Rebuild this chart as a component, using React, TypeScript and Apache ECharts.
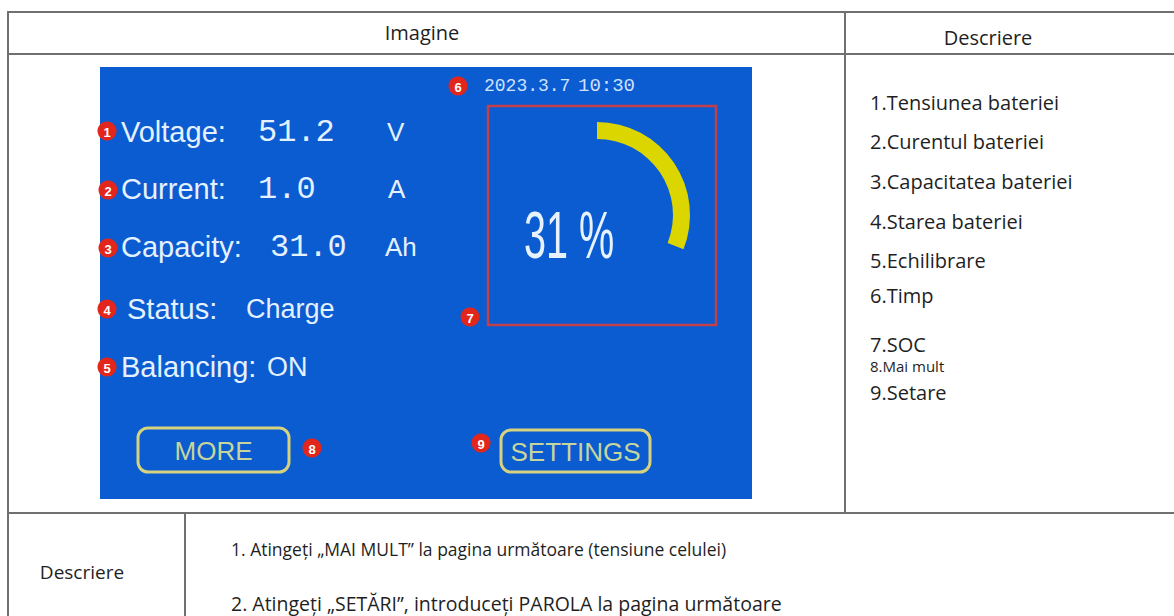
import React, { useEffect, useRef } from "react";
import * as echarts from "echarts";

// ---- data ----
const headerLabels = ["Imagine", "Descriere"];
const metricLabels = ["Voltage:", "Current:", "Capacity:", "Status:", "Balancing:"];
const metricValues = ["51.2", "1.0", "31.0", "Charge", "ON"];
const metricUnits = ["V", "A", "Ah", "", ""];
const dateTime = ["2023.3.7", "10:30"];
const socValue = [31];
const buttonLabels = ["MORE", "SETTINGS"];
const markerNumbers = ["1", "2", "3", "4", "5", "6", "7", "8", "9"];
const descriptionItems = [
  "1.Tensiunea bateriei",
  "2.Curentul bateriei",
  "3.Capacitatea bateriei",
  "4.Starea bateriei",
  "5.Echilibrare",
  "6.Timp",
  "7.SOC",
  "8.Mai mult",
  "9.Setare",
];
const footerLabel = ["Descriere"];
const footerNotes = [
  "1. Atingeți „MAI MULT” la pagina următoare (tensiune celulei)",
  "2. Atingeți „SETĂRI”, introduceți PAROLA la pagina următoare",
];

// ---- layout ----
const W = 1174;
const H = 616;
const LINE = "#707070";
const TXT = "#1f1f1f";
const BLUE = "#0b5bd1";
const SCREEN_TXT = "#e4f1ff";
const SANS = '"Liberation Sans", Arial, sans-serif';
const MONO = '"Liberation Mono", "DejaVu Sans Mono", monospace';
const OPEN = '"Open Sans", "Noto Sans", sans-serif';

const rowY = [132, 189, 247, 309, 367];
const valueX = [258, 258, 270, 246, 267];
const unitX = [387, 388, 385, 0, 0];
const markerPos: [number, number][] = [
  [107, 131],
  [108, 190],
  [108, 248],
  [107, 309],
  [107, 367],
  [458, 86],
  [470, 317],
  [312, 448],
  [481, 443],
];
const descY = [102, 141, 181, 221, 260, 295, 344, 366, 392];

function txt(text: string, x: number, y: number, font: string, fill: string, align = "left", z = 5) {
  return {
    type: "text",
    z,
    style: {
      text,
      x,
      y,
      font,
      fill,
      align,
      verticalAlign: "middle",
      textAlign: align,
      textVerticalAlign: "middle",
    },
  };
}

function line(x1: number, y1: number, x2: number, y2: number) {
  return {
    type: "line",
    z: 3,
    shape: { x1, y1, x2, y2 },
    style: { stroke: LINE, lineWidth: 2 },
  };
}

export default function App() {
  const ref = useRef<HTMLDivElement>(null);
  useEffect(() => {
    if (!ref.current) return;
    const chart = echarts.init(ref.current, undefined, { renderer: "svg" });

    const elements: any[] = [];
    // table lines
    elements.push(line(8, 12, W, 12));
    elements.push(line(8, 54, W, 54));
    elements.push(line(8, 513, W, 513));
    elements.push(line(8, 11, 8, H));
    elements.push(line(845, 11, 845, 514));
    elements.push(line(185, 513, 185, H));

    // headers
    elements.push(txt(headerLabels[0], 422, 32, `20px ${OPEN}`, TXT, "center"));
    elements.push(txt(headerLabels[1], 988, 37, `20px ${OPEN}`, TXT, "center"));

    // blue screen
    elements.push({
      type: "rect",
      z: 1,
      shape: { x: 100, y: 67, width: 652, height: 432 },
      style: { fill: BLUE },
    });

    // metrics
    metricLabels.forEach((lab, i) => {
      elements.push(txt(lab, i === 3 ? 127 : 121, rowY[i], `29px ${SANS}`, SCREEN_TXT));
      const isNum = i < 3;
      elements.push(
        txt(metricValues[i], valueX[i], rowY[i], isNum ? `32px ${MONO}` : `27px ${SANS}`, SCREEN_TXT)
      );
      if (metricUnits[i]) elements.push(txt(metricUnits[i], unitX[i], rowY[i], `26px ${SANS}`, SCREEN_TXT));
    });

    // date & time
    elements.push(txt(dateTime[0], 484, 86, `18px ${MONO}`, "#cfe2ff"));
    elements.push(txt(dateTime[1], 578, 86, `19px ${MONO}`, "#cfe2ff"));

    // SOC box
    elements.push({
      type: "rect",
      z: 4,
      shape: { x: 488, y: 106, width: 228, height: 219 },
      style: { fill: "none", stroke: "#c2404a", lineWidth: 2.5 },
    });

    // SOC percentage text (condensed)
    elements.push({
      type: "text",
      z: 9,
      x: 569,
      y: 236,
      scaleX: 0.6,
      style: {
        text: `${socValue[0]} %`,
        x: 0,
        y: 0,
        font: `66px ${SANS}`,
        fill: "#e6f3ff",
        align: "center",
        verticalAlign: "middle",
        textAlign: "center",
        textVerticalAlign: "middle",
      },
    });

    // buttons
    const btns = [
      { x: 138, y: 428, w: 151, h: 44 },
      { x: 501, y: 430, w: 149, h: 42 },
    ];
    btns.forEach((b, i) => {
      elements.push({
        type: "rect",
        z: 4,
        shape: { x: b.x, y: b.y, width: b.w, height: b.h, r: 10 },
        style: { fill: "none", stroke: "#d6d27e", lineWidth: 3 },
      });
      elements.push(txt(buttonLabels[i], b.x + b.w / 2, b.y + b.h / 2 + 1, `26px ${SANS}`, "#c6d59c", "center"));
    });

    // red markers
    markerNumbers.forEach((n, i) => {
      const [cx, cy] = markerPos[i];
      elements.push({
        type: "circle",
        z: 6,
        shape: { cx, cy, r: 9.5 },
        style: { fill: "#e2261c" },
      });
      elements.push(txt(n, cx, cy + 1, `bold 13px ${SANS}`, "#ffffff", "center", 7));
    });

    // description list
    descriptionItems.forEach((d, i) => {
      elements.push(txt(d, 870, descY[i], `${i === 7 ? 15 : 20}px ${OPEN}`, TXT));
    });

    // footer
    elements.push(txt(footerLabel[0], 82, 572, `19px ${OPEN}`, TXT, "center"));
    elements.push(txt(footerNotes[0], 231, 549, `17.5px ${OPEN}`, TXT));
    elements.push(txt(footerNotes[1], 231, 603, `19.5px ${OPEN}`, TXT));

    chart.setOption({
      animation: false,
      backgroundColor: "#ffffff",
      graphic: { elements },
      series: [
        {
          type: "gauge",
          z: 8,
          center: [597, 215],
          radius: 93,
          startAngle: 90,
          endAngle: -270,
          min: 0,
          max: 100,
          progress: { show: true, width: 17, itemStyle: { color: "#dcd600" } },
          axisLine: { show: true, lineStyle: { width: 17, color: [[1, "rgba(0,0,0,0)"]] } },
          pointer: { show: false },
          anchor: { show: false },
          axisTick: { show: false },
          splitLine: { show: false },
          axisLabel: { show: false },
          title: { show: false },
          detail: { show: false },
          data: [{ value: socValue[0] }],
        },
      ],
    });
    return () => chart.dispose();
  }, []);

  return (
    <div
      ref={ref}
      style={{ position: "fixed", left: 0, top: 0, width: W, height: H }}
    />
  );
}
